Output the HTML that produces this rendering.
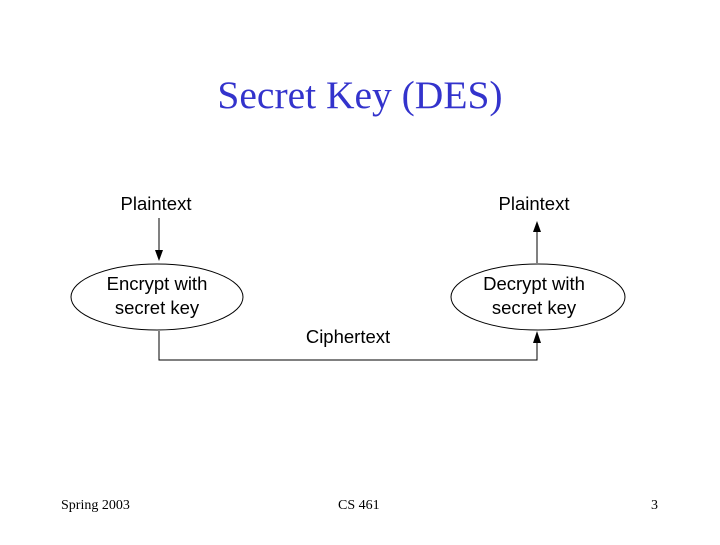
<!DOCTYPE html>
<html><head><style>
body{margin:0;width:720px;height:540px;background:#fff;overflow:hidden}
</style></head><body>
<svg width="720" height="540" xmlns="http://www.w3.org/2000/svg">
<text x="360" y="108" text-anchor="middle" font-family="Liberation Serif" font-size="39.5" fill="#3333cc">Secret Key (DES)</text>
<g font-family="Liberation Sans" font-size="18.5" fill="#000" text-anchor="middle">
<text x="156" y="210">Plaintext</text>
<text x="534" y="210">Plaintext</text>
<text x="157" y="290">Encrypt with</text>
<text x="157" y="314">secret key</text>
<text x="534" y="290">Decrypt with</text>
<text x="534" y="314">secret key</text>
<text x="348" y="343">Ciphertext</text>
</g>
<g fill="none" stroke="#000" stroke-width="1">
<ellipse cx="157" cy="297" rx="86" ry="33"/>
<ellipse cx="538" cy="297" rx="87" ry="33"/>
<line x1="159" y1="218" x2="159" y2="252"/>
<line x1="537" y1="263" x2="537" y2="230"/>
<polyline points="159,331 159,360 537,360 537,340"/>
</g>
<g fill="#000">
<polygon points="155,250 163,250 159,261"/>
<polygon points="533,232 541,232 537,221"/>
<polygon points="533,343 541,343 537,331"/>
</g>
<g font-family="Liberation Serif" font-size="14" fill="#000">
<text x="61" y="509">Spring 2003</text>
<text x="338" y="509">CS 461</text>
<text x="651" y="509">3</text>
</g>
</svg>
</body></html>
